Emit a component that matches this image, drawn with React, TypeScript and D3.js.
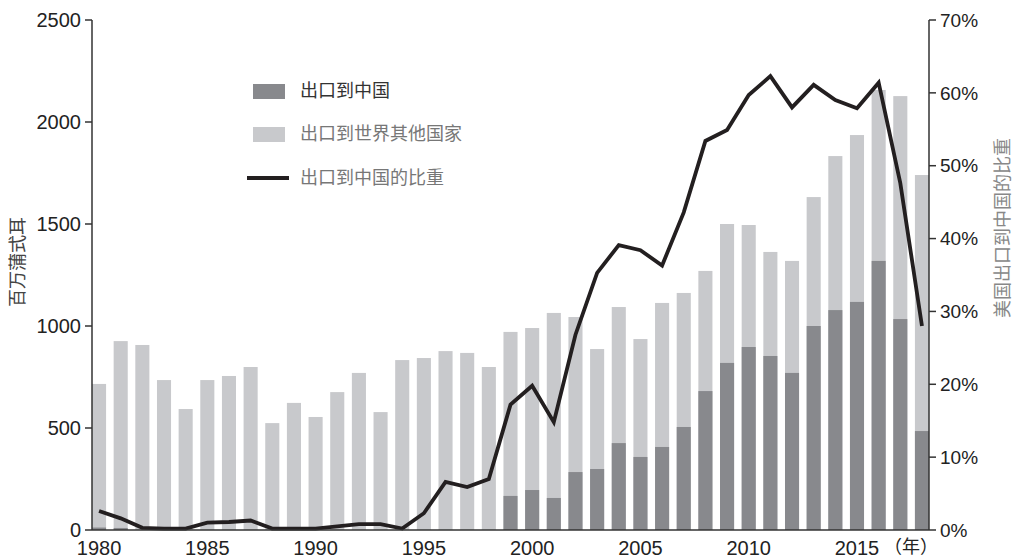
import React from "react";
import * as d3 from "d3";

// 美国大豆出口（百万蒲式耳）与出口到中国的比重
const years = [
  1980, 1981, 1982, 1983, 1984, 1985, 1986, 1987, 1988, 1989,
  1990, 1991, 1992, 1993, 1994, 1995, 1996, 1997, 1998, 1999,
  2000, 2001, 2002, 2003, 2004, 2005, 2006, 2007, 2008, 2009,
  2010, 2011, 2012, 2013, 2014, 2015, 2016, 2017, 2018,
];
const toChina = [
  12, 10, 0, 0, 0, 0, 0, 0, 0, 0,
  0, 0, 0, 0, 0, 0, 0, 0, 0, 167,
  196, 157, 284, 299, 426, 358, 407, 505, 681, 819,
  897, 853, 770, 1000, 1078, 1118, 1319, 1034, 485,
];
const totalExports = [
  716, 926, 907, 735, 593, 735, 755, 799, 524, 623,
  554, 676, 770, 578, 833, 843, 877, 868, 799, 971,
  990, 1064, 1044, 887, 1093, 936, 1113, 1162, 1270, 1500,
  1495, 1363, 1319, 1632, 1833, 1936, 2157, 2127, 1740,
];
const shareChina = [
  2.6, 1.6, 0.3, 0.2, 0.2, 1.0, 1.1, 1.3, 0.2, 0.2,
  0.2, 0.5, 0.8, 0.8, 0.2, 2.3, 6.6, 5.9, 7.0, 17.2,
  19.8, 14.8, 26.8, 35.3, 39.1, 38.4, 36.3, 43.6, 53.4, 54.9,
  59.7, 62.3, 58.0, 61.1, 59.0, 57.9, 61.4, 47.6, 28.0,
];
const leftTicks = [0, 500, 1000, 1500, 2000, 2500];
const rightTicks = [0, 10, 20, 30, 40, 50, 60, 70];
const yearTicks = [1980, 1985, 1990, 1995, 2000, 2005, 2010, 2015];

const DARK = "#88898d";
const LIGHT = "#c8c9cc";
const LINE = "#231f20";
const numFont = "'Liberation Sans', Arial, sans-serif";
const cjkFont = "'Noto Sans CJK SC', sans-serif";

export default function App() {
  const left = 92, right = 929, top = 20, bottom = 530;

  const x = d3.scaleBand<number>().domain(years).range([left, right])
    .paddingInner(0.35).paddingOuter(0);
  const y = d3.scaleLinear().domain([0, 2500]).range([bottom, top]);
  const y2 = d3.scaleLinear().domain([0, 70]).range([bottom, top]);

  const line = d3.line<number>()
    .x((_, i) => x(years[i])! + x.bandwidth() / 2)
    .y((d) => y2(d));

  return (
    <svg width={1015} height={560} style={{ position: "absolute", left: 0, top: 0, background: "#fff" }}>
      {/* bars */}
      {years.map((yr, i) => (
        <g key={yr}>
          <rect x={x(yr)} width={x.bandwidth()} y={y(totalExports[i])}
            height={y(0) - y(totalExports[i])} fill={LIGHT} />
          {toChina[i] > 0 && (
            <rect x={x(yr)} width={x.bandwidth()} y={y(toChina[i])}
              height={y(0) - y(toChina[i])} fill={DARK} />
          )}
        </g>
      ))}

      {/* share line */}
      <path d={line(shareChina) ?? ""} fill="none" stroke={LINE} strokeWidth={3.8}
        strokeLinejoin="miter" />

      {/* axes */}
      <line x1={left} x2={left} y1={top} y2={bottom} stroke="#333" strokeWidth={1.5} />
      <line x1={right} x2={right} y1={top} y2={bottom} stroke="#333" strokeWidth={1.5} />
      <line x1={left} x2={right} y1={bottom} y2={bottom} stroke="#333" strokeWidth={1.5} />

      {leftTicks.map((t) => (
        <g key={t}>
          <line x1={left - 7} x2={left} y1={y(t)} y2={y(t)} stroke="#333" strokeWidth={1.5} />
          <text x={left - 11} y={y(t)} dy="0.35em" textAnchor="end" fontFamily={numFont}
            fontSize={20} fill="#222">{t}</text>
        </g>
      ))}
      {rightTicks.map((t) => (
        <g key={t}>
          <line x1={right} x2={right + 7} y1={y2(t)} y2={y2(t)} stroke="#333" strokeWidth={1.5} />
          <text x={right + 11} y={y2(t)} dy="0.35em" textAnchor="start" fontFamily={numFont}
            fontSize={19} fill="#222">{t + "%"}</text>
        </g>
      ))}
      {yearTicks.map((t) => (
        <text key={t} x={x(t)! + x.bandwidth() / 2} y={555} textAnchor="middle"
          fontFamily={numFont} fontSize={20} fill="#222">{t}</text>
      ))}
      <text x={884} y={553} fontFamily={cjkFont} fontSize={18} fill="#222">（年）</text>

      {/* axis titles */}
      <text transform="translate(24,262) rotate(-90)" textAnchor="middle" fontFamily={cjkFont}
        fontSize={18} fill="#444">百万蒲式耳</text>
      <text transform="translate(1003,228) rotate(-90)" textAnchor="middle" dy="0.35em"
        fontFamily={cjkFont} fontSize={18} fill="#888">美国出口到中国的比重</text>

      {/* legend */}
      <rect x={253} y={84} width={32} height={15} fill={DARK} />
      <text x={300} y={91} dy="0.35em" fontFamily={cjkFont} fontSize={18} fill="#333">出口到中国</text>
      <rect x={253} y={127} width={32} height={15} fill={LIGHT} />
      <text x={300} y={134} dy="0.35em" fontFamily={cjkFont} fontSize={18} fill="#777">出口到世界其他国家</text>
      <line x1={247} x2={289} y1={178} y2={178} stroke={LINE} strokeWidth={3.8} />
      <text x={300} y={178} dy="0.35em" fontFamily={cjkFont} fontSize={18} fill="#777">出口到中国的比重</text>
    </svg>
  );
}
